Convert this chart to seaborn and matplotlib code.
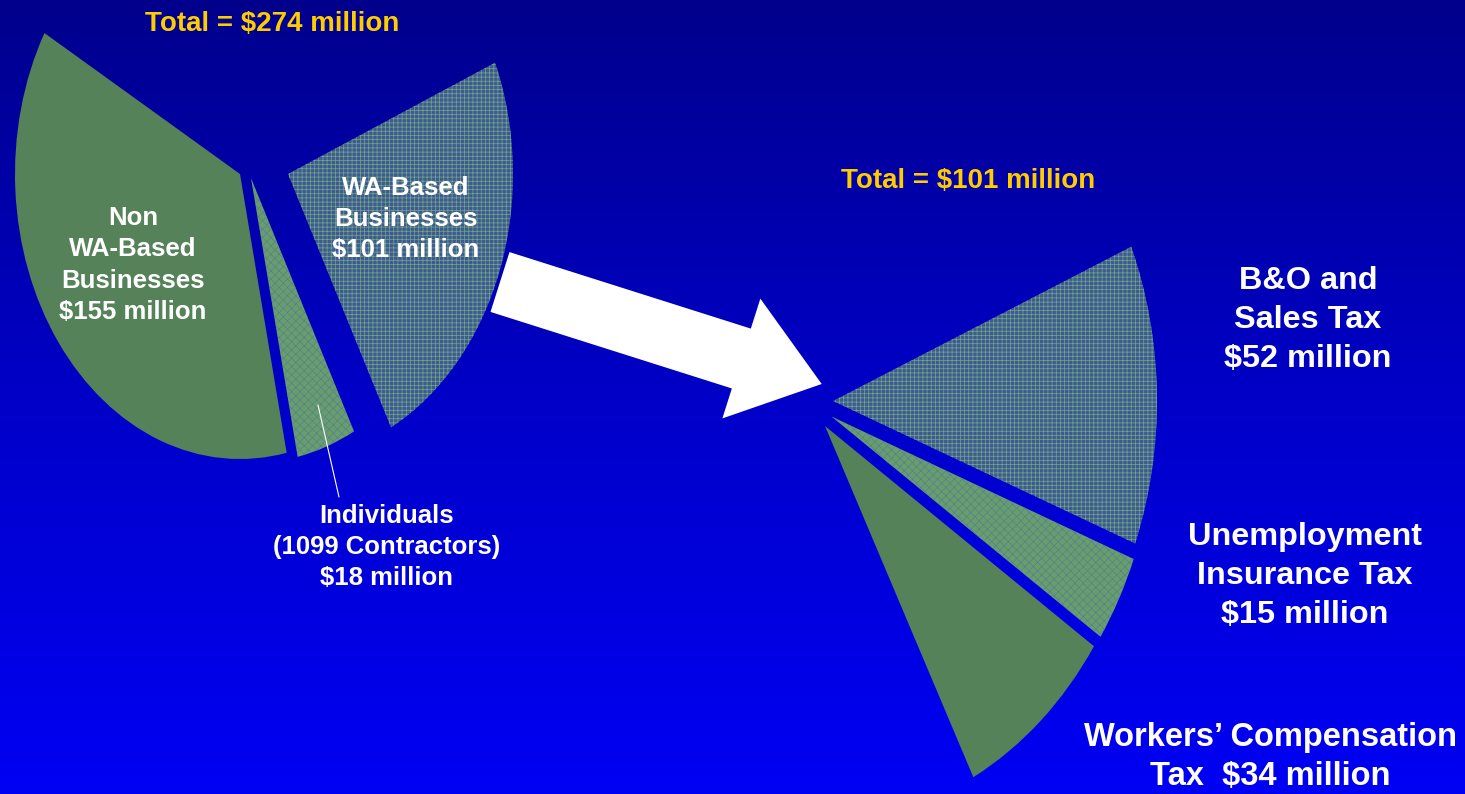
import numpy as np
import matplotlib
matplotlib.use("Agg")
import matplotlib.pyplot as plt
import seaborn as sns
from matplotlib.colors import LinearSegmentedColormap
from matplotlib.patches import FancyArrow
from matplotlib.transforms import Affine2D

# data (millions of dollars), listed clockwise from the start angle
left_labels = ["WA-Based\nBusinesses\n$101 million",
               "Individuals\n(1099 Contractors)\n$18 million",
               "Non\nWA-Based\nBusinesses\n$155 million"]
left_values = [101, 18, 155]
left_total = 274

right_labels = ["B&O and\nSales Tax\n$52 million",
                "Unemployment\nInsurance Tax\n$15 million",
                "Workers\u2019 Compensation\nTax  $34 million"]
right_values = [52, 15, 34]
right_total = 101

# both pies share one angular scale: a full turn would be ~424 million
FULL_TURN = 424.0

solid_green = "#558259"
styles = {
    "grid": dict(face="#40579c", edge="#6fae72", hatch="++++", lw=0.5),
    "fine": dict(face="#689e6a", edge="#55789f", hatch="xxxx", lw=0.4),
    "solid": dict(face=solid_green, edge=solid_green, hatch=None, lw=0.5),
}

sns.set_theme(style="white")
plt.rcParams["font.family"] = ["Liberation Sans", "DejaVu Sans"]

W, H = 1465, 794
fig = plt.figure(figsize=(W / 100, H / 100), dpi=100)
ax = fig.add_axes([0, 0, 1, 1])

# background gradient, navy at the top to bright blue at the bottom
bg = LinearSegmentedColormap.from_list("bg", ["#00008c", "#0000c8", "#0000f4"])
ax.imshow(np.linspace(0, 1, 256).reshape(-1, 1), cmap=bg, aspect="auto",
          extent=(0, W, H, 0), origin="upper", zorder=0)


def draw_pie(values, kinds, apexes, rx, ry):
    fracs = np.array(values, dtype=float) / FULL_TURN
    wedges, _ = ax.pie(fracs, normalize=False, startangle=23, counterclock=False,
                       wedgeprops=dict(linewidth=0))
    for w, kind, (cx, cy) in zip(wedges, kinds, apexes):
        st = styles[kind]
        w.set_facecolor(st["face"])
        w.set_edgecolor(st["edge"])
        w.set_linewidth(0)
        if st["hatch"]:
            w.set_hatch(st["hatch"])
            w.set_hatch_linewidth(st["lw"])
        w.set_zorder(2)
        w.set_transform(Affine2D().scale(rx, -ry).translate(cx, cy) + ax.transData)
    return wedges


draw_pie(left_values, ["grid", "fine", "solid"],
         [(288, 174), (251, 178), (240, 174)], 225, 285)
draw_pie(right_values, ["grid", "fine", "solid"],
         [(833, 401), (831.5, 416.5), (825, 426)], 324, 395)

# big white arrow between the two pies
ax.add_patch(FancyArrow(500, 282, 321.7, 102, width=62.8, head_width=125.7,
                        head_length=84.3, length_includes_head=True,
                        color="white", linewidth=0, zorder=3))

# leader line for the small slice
ax.plot([318, 339], [405, 497], color="white", lw=0.8, zorder=3)

gold = "#ffcc00"
ax.text(272, 24, f"Total = ${left_total} million", color=gold, fontsize=20,
        fontweight="bold", ha="center", va="center", zorder=4)
ax.text(968, 181, f"Total = ${right_total} million", color=gold, fontsize=20,
        fontweight="bold", ha="center", va="center", zorder=4)

txt = dict(color="white", fontweight="bold", ha="center", va="center", zorder=4)
ax.text(406, 219, left_labels[0], fontsize=18.5, linespacing=1.38, **txt)
ax.text(387, 547, left_labels[1], fontsize=18.5, linespacing=1.38, **txt)
ax.text(133, 265, left_labels[2], fontsize=18.5, linespacing=1.38, **txt)

ax.text(1308, 320, right_labels[0], fontsize=23.3, linespacing=1.38, **txt)
ax.text(1305, 576, right_labels[1], fontsize=23.3, linespacing=1.38, **txt)
ax.text(1270, 757, right_labels[2], fontsize=23.5, linespacing=1.36, **txt)

ax.set_xlim(0, W)
ax.set_ylim(H, 0)
ax.set_aspect("auto")
ax.axis("off")

fig.savefig("out.png", dpi=100)
